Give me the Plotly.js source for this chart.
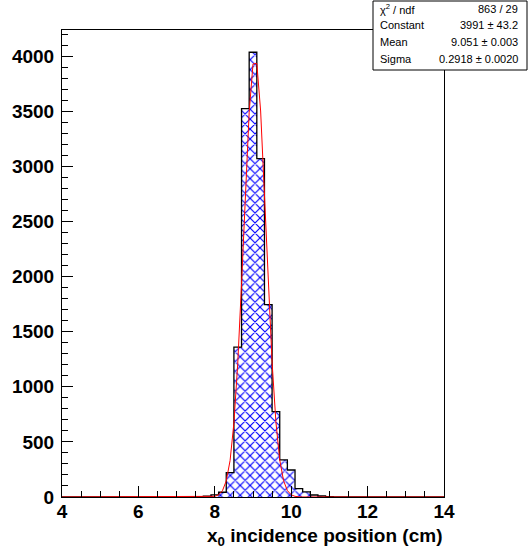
<!DOCTYPE html>
<html>
<head>
<meta charset="utf-8">
<script src="https://cdn.plot.ly/plotly-3.0.1.min.js"></script>
<style>html,body{margin:0;padding:0;background:#fff;}#chart{width:529px;height:552px;}</style>
</head>
<body>
<div id="chart"></div>
<script>
// Histogram bins (centers, width 0.2 cm) and counts
const binCenters = [7.2, 7.4, 7.6, 7.8, 8.0, 8.2, 8.4, 8.6, 8.8, 9.0, 9.2, 9.4, 9.6, 9.8, 10.0, 10.2, 10.4, 10.6, 10.8, 11.0, 11.2, 11.4];
const binCounts  = [1, 2, 3, 8, 19, 43, 221, 1361, 3525, 4036, 3070, 1745, 775, 336, 245, 76, 46, 18, 9, 4, 2, 1];
const binWidth = 0.2;

// Fitted gaussian polyline as drawn (samples)
const fitX = [4.0, 7.8, 7.9, 8.0, 8.1, 8.2, 8.3, 8.4, 8.5, 8.6, 8.7, 8.8, 8.9, 9.0, 9.1, 9.2, 9.3, 9.4, 9.5, 9.6, 9.7, 9.8, 9.9, 10.0, 10.1, 10.2, 10.3, 14.0];
const fitY = [0, 0.4, 1.7, 6, 20, 57, 146, 331, 671, 1209, 1936, 2757, 3491, 3930, 3935, 3503, 2773, 1952, 1222, 680, 336, 148, 58, 20, 6, 1.6, 0.4, 0];

// Stats box
const statNames  = ["χ<sup>2</sup> / ndf", "Constant", "Mean", "Sigma"];
const statValues = ["863 / 29", "3991 ± 43.2", "9.051 ± 0.003", "0.2918 ± 0.0020"];

const xRange = [4, 14];
const yTicks = [0, 500, 1000, 1500, 2000, 2500, 3000, 3500, 4000];
const xTicks = [4, 6, 8, 10, 12, 14];

// step outline
const stepX = [xRange[0]], stepY = [0];
binCenters.forEach((c, i) => { stepX.push(c - binWidth / 2); stepY.push(binCounts[i]); });
stepX.push(binCenters[binCenters.length - 1] + binWidth / 2); stepY.push(0);
stepX.push(xRange[1]); stepY.push(0);

const W = 529, H = 552, L = 62, R = 85, T = 30, B = 55;
const pw = W - L - R, ph = H - T - B;
const px = v => (v - L) / pw;
const py = v => (H - B - v) / ph;

const traces = [
  {
    type: 'bar', x: binCenters, y: binCounts, width: binWidth,
    marker: { color: 'white', line: { width: 0 },
      pattern: { shape: 'x', fgcolor: '#0000ff', bgcolor: 'white', size: 7, solidity: 0.3 } },
    hoverinfo: 'skip'
  },
  {
    type: 'scatter', mode: 'lines', x: stepX, y: stepY,
    line: { color: 'black', width: 1.3, shape: 'hv' }, hoverinfo: 'skip'
  },
  {
    type: 'scatter', mode: 'lines', x: fitX, y: fitY,
    line: { color: '#ff0000', width: 1 }, hoverinfo: 'skip'
  }
];

const tickFont = { family: 'Liberation Sans, Arial, sans-serif', size: 19, color: 'black', weight: 'bold' };

const annotations = [];
const rowY = [9, 25.5, 42, 58.5];
statNames.forEach((n, i) => {
  annotations.push({ xref: 'paper', yref: 'paper', x: px(378), y: py(rowY[i]), xanchor: 'left', yanchor: 'middle',
    text: n, showarrow: false, font: { family: 'Liberation Sans, Arial, sans-serif', size: 11, color: 'black' } });
  annotations.push({ xref: 'paper', yref: 'paper', x: px(520), y: py(rowY[i]), xanchor: 'right', yanchor: 'middle',
    text: statValues[i], showarrow: false, font: { family: 'Liberation Sans, Arial, sans-serif', size: 11, color: 'black' } });
});
annotations.push({ xref: 'paper', yref: 'paper', x: 1, y: py(537), xanchor: 'right', yanchor: 'middle',
  text: '<b>x<sub>0</sub> incidence position (cm)</b>', showarrow: false,
  font: { family: 'Liberation Sans, Arial, sans-serif', size: 19, color: 'black' } });

const layout = {
  width: W, height: H,
  margin: { l: L, r: R, t: T, b: B, pad: 0 },
  paper_bgcolor: 'white', plot_bgcolor: 'white',
  showlegend: false, bargap: 0,
  xaxis: {
    range: xRange, tickvals: xTicks, ticktext: xTicks.map(String),
    ticks: 'inside', ticklen: 11, tickwidth: 1, tickcolor: 'black',
    minor: { dtick: 0.5, ticks: 'inside', ticklen: 6, tickcolor: 'black', showgrid: false },
    showline: true, linecolor: 'black', linewidth: 1, mirror: true,
    showgrid: false, zeroline: false, tickfont: tickFont, ticklabelstandoff: -3
  },
  yaxis: {
    range: [0, 4238], tickvals: yTicks, ticktext: yTicks.map(String),
    ticks: 'inside', ticklen: 11, tickwidth: 1, tickcolor: 'black',
    minor: { dtick: 100, ticks: 'inside', ticklen: 6, tickcolor: 'black', showgrid: false },
    showline: true, linecolor: 'black', linewidth: 1, mirror: true,
    showgrid: false, zeroline: false, tickfont: tickFont, ticklabelstandoff: 3
  },
  shapes: [
    { type: 'rect', xref: 'paper', yref: 'paper', x0: px(373), x1: px(527), y0: py(1), y1: py(70),
      fillcolor: 'white', line: { color: 'black', width: 1 }, layer: 'above' }
  ],
  annotations: annotations
};

Plotly.newPlot('chart', traces, layout, { displayModeBar: false, staticPlot: true });
</script>
</body>
</html>
